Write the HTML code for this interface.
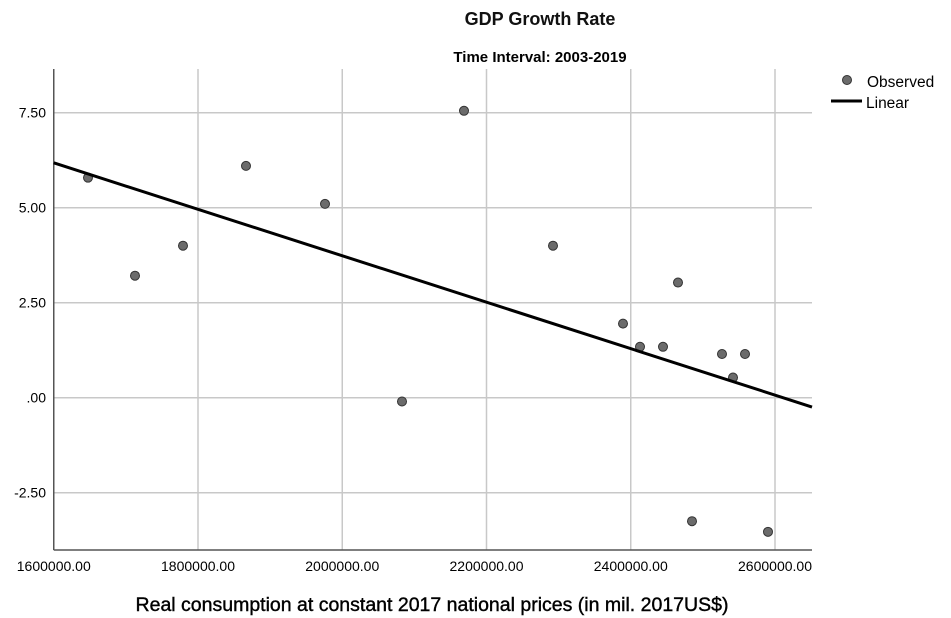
<!DOCTYPE html>
<html><head><meta charset="utf-8"><style>
body{margin:0;background:#fff;}
svg{display:block;font-family:"Liberation Sans",Arial,sans-serif;}
</style></head><body>
<svg id="chart" width="951" height="618">
<text x="540" y="25" text-anchor="middle" font-size="18" font-weight="bold" fill="#111">GDP Growth Rate</text>
<text x="540" y="62" text-anchor="middle" font-size="15" font-weight="bold" fill="#000">Time Interval: 2003-2019</text>
<g id="grid"></g><g id="axes"></g><g id="marks"></g>
<text x="432" y="611" text-anchor="middle" font-size="19.5" fill="#000" stroke="#000" stroke-width="0.4">Real consumption at constant 2017 national prices (in mil. 2017US$)</text>
<g>
<circle cx="847" cy="80" r="4.5" fill="#6b6b6b" stroke="#333" stroke-width="1"/>
<text x="867" y="87" font-size="15.5" fill="#000">Observed</text>
<line x1="831" y1="101" x2="862" y2="101" stroke="#000" stroke-width="3"/>
<text x="866" y="108" font-size="15.5" fill="#000">Linear</text>
</g>
</svg>
<script>
const xVals=[1647487,1712652,1779202,1866551,1976083,2082842,2168804,2292201,2389255,2412825,2444714,2465511,2484922,2526516,2541768,2558406,2590295];
const yVals=[5.79,3.21,4.0,6.1,5.1,-0.1,7.55,4.0,1.95,1.34,1.34,3.03,-3.25,1.15,0.53,1.15,-3.53];
const xTicks=[1600000,1800000,2000000,2200000,2400000,2600000];
const yTicks=[7.5,5,2.5,0,-2.5];
const yTickLabels=["7.50","5.00","2.50",".00","-2.50"];
const fitX=[1600000,2651300];
const fitY=[6.18,-0.245];
const NS="http://www.w3.org/2000/svg";
const L=53.75,R=812,T=69,B=550;
function sx(v){return L+(v-1600000)/200000*144.25;}
function sy(v){return 397.7-v*38;}
function mk(tag,attrs,parent){const e=document.createElementNS(NS,tag);for(const k in attrs)e.setAttribute(k,attrs[k]);parent.appendChild(e);return e;}
const grid=document.getElementById('grid'),axes=document.getElementById('axes'),marks=document.getElementById('marks');
xTicks.forEach((t,i)=>{const x=sx(t);
 if(i>0){const g=mk('line',{x1:x,x2:x,y1:T,y2:B,stroke:'#c8c8c8','stroke-width':1.5},grid);
 
 }
 const tx=mk('text',{x:x,y:571,'text-anchor':'middle','font-size':14,fill:'#000'},axes);tx.textContent=t.toFixed(2);
 
 });
yTicks.forEach((t,i)=>{const y=sy(t);
 const g=mk('line',{x1:L,x2:R,y1:y,y2:y,stroke:'#c8c8c8','stroke-width':1.5},grid);
 
 
 const tx=mk('text',{x:46,y:y+5,'text-anchor':'end','font-size':14,fill:'#000'},axes);tx.textContent=yTickLabels[i];
 
 });
const ya=mk('line',{x1:L,x2:L,y1:T,y2:B,stroke:'#555','stroke-width':1.5},axes);


const xa=mk('line',{x1:L,x2:R,y1:B,y2:B,stroke:'#555','stroke-width':1.5},axes);


xVals.forEach((v,i)=>{const c=mk('circle',{cx:sx(v),cy:sy(yVals[i]),r:4.5,fill:'#6b6b6b',stroke:'#333','stroke-width':1},marks);
 
 });
const fl=mk('line',{x1:sx(fitX[0]),y1:sy(fitY[0]),x2:sx(fitX[1]),y2:sy(fitY[1]),stroke:'#000','stroke-width':3},marks);


</script>
</body></html>
